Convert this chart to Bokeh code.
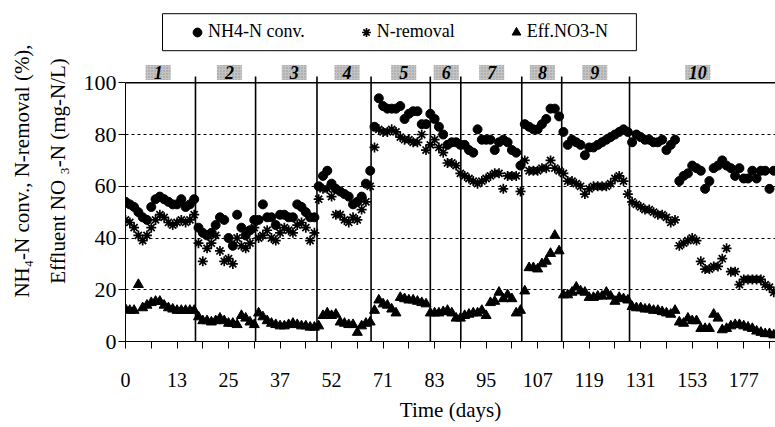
from bokeh.plotting import figure
from bokeh.models import (Range1d, FixedTicker, Span, Legend, LegendItem,
                          BoxAnnotation, LinearAxis)
from bokeh.embed import file_html
from bokeh.resources import INLINE
from bokeh.core.properties import value

FONT = "Liberation Serif"

# ---------------- data (one value per sample) -------------
day_labels = ["0", "13", "25", "37", "52", "71", "83", "95", "107", "119", "131", "153", "177"]
phase_names = ["1", "2", "3", "4", "5", "6", "7", "8", "9", "10"]

nh4_conv = [
    54, 53, 52, 50, 48, 47, 52, 55, 56, 55, 54, 53, 53, 55, 52, 53, 55,           # 1
    44, 42, 41, 42, 45, 48, 47, 40, 37, 49, 44, 41, 43, 47,                       # 2
    47, 53, 48, 48, 45, 49, 49, 48, 48, 53, 52, 50, 48, 48,                       # 3
    60, 64, 66, 61, 59, 58, 57, 56, 53, 54, 56, 61, 66,                           # 4
    83, 94, 91, 90, 90, 90, 91, 86, 88, 89, 89, 84, 84, 88,                       # 5
    86, 83, 80, 76, 77, 77, 76,                                                   # 6
    76, 74, 73, 82, 78, 78, 78, 74, 77, 78, 77, 74, 73, 68,                       # 7
    84, 83, 82, 82, 84, 86, 90, 90, 87,                                           # 8
    81, 76, 78, 77, 76, 72, 75, 75, 76, 77, 78, 79, 80, 81, 82, 81,               # 9
    77, 80, 79, 78, 78, 77, 77, 78, 74, 76, 78, 62, 64, 65, 68, 67, 66, 59, 62,   # 10
    67, 68, 70, 68, 67, 64, 67, 63, 63, 66, 63, 66, 66, 59, 66,
]

n_removal = [
    47, 46, 44, 41, 39, 41, 44, 47, 49, 48, 46, 45, 46, 47, 46, 47, 49,
    38, 31, 36, 38, 41, 35, 31, 32, 30, 40, 37, 36, 38, 44,
    40, 41, 43, 40, 39, 42, 44, 43, 42, 45, 46, 44, 39, 42,
    55, 59, 59, 56, 49, 49, 47, 46, 48, 47, 51, 54, 60,
    75, 82, 81, 81, 82, 81, 79, 78, 78, 77, 77, 80, 74, 76,
    78, 75, 73, 69, 69, 68, 65,
    64, 63, 62, 61, 62, 63, 64, 65, 65, 59, 64, 64, 64, 58,
    70, 66, 66, 66, 67, 67, 70, 67, 66,
    65, 62, 62, 61, 60, 57, 59, 60, 60, 60, 60, 61, 63, 64, 62, 57,
    54, 53, 52, 51, 51, 50, 49, 49, 48, 46, 47, 37, 38, 39, 40, 39, 31, 28, 28,
    29, 29, 32, 36, 27, 27, 22, 24, 24, 24, 24, 24, 22, 21, 19,
]

eff_no3 = [
    12.5, 12, 12, 22, 13, 14, 15, 15.5, 15.5, 14, 13, 12.5, 12, 12, 12, 12, 12,
    9.5, 8, 8, 7.5, 8, 9, 8, 7, 7, 6.5, 10, 9, 7.5, 6.5,
    11, 9.5, 8, 7, 6.5, 6, 6, 6.5, 7, 6.5, 6, 6, 5.5, 5.5,
    6, 10, 11, 10, 10.5, 7.5, 7, 6.5, 6.5, 3.5, 6, 7, 7.5,
    12, 16, 14.5, 14, 12.5, 11, 17, 16.5, 16, 16, 15.5, 15, 14.5, 11,
    11, 11, 11.5, 12, 11, 9, 9,
    10, 10.5, 11, 11, 12, 10, 15, 15.5, 19, 16.5, 18, 16.5, 11, 12,
    19.5, 28.5, 28.5, 28, 30, 31, 34, 41, 35,
    18, 18, 19, 21, 19.5, 19, 17, 17, 17.5, 17.5, 19, 17.5, 15.5, 17, 16.5, 16,
    13.5, 13, 13, 12.5, 12.5, 12, 12, 11.5, 11, 10.5, 12, 7.5, 7, 9, 8, 8, 5, 5, 5,
    10.5, 9, 4.5, 5, 6, 6.5, 6.5, 6, 5.5, 5, 4, 3.5, 3, 3, 2.5,
]

sample = list(range(len(nh4_conv)))

# ---------------- layout helpers (positions in sample / value units) ----------------
phase_bounds = [16.3, 30.3, 44.6, 57.2, 71.0, 78.1, 92.3, 101.6, 117.4]
phase_label_x = [7.6, 24.2, 39.3, 51.6, 64.8, 74.7, 85.3, 97.1, 109.3, 133.3]
label_every = 12

p = figure(width=775, height=427,
           x_range=Range1d(0, 151.4), y_range=Range1d(0, 131.8),
           output_backend="svg", toolbar_location=None,
           min_border_left=125, min_border_right=0,
           min_border_top=0, min_border_bottom=86)
p.outline_line_color = None
p.background_fill_color = "white"
p.border_fill_color = "white"

# x axis
major = [i * label_every for i in range(len(day_labels))]
minor = [m + label_every // 2 for m in major]
xa = p.xaxis[0]
xa.ticker = FixedTicker(ticks=major, minor_ticks=minor)
xa.major_label_overrides = {m: lab for m, lab in zip(major, day_labels)}
xa.major_tick_out = 7
xa.major_tick_in = 0
xa.minor_tick_out = 7
xa.minor_tick_in = 0
xa.axis_line_color = "black"
xa.major_tick_line_color = "black"
xa.minor_tick_line_color = "black"
xa.major_label_text_font = FONT
xa.major_label_text_font_size = "20px"
xa.major_label_text_color = "black"
xa.major_label_standoff = 24
xa.axis_label = "Time (days)"
xa.axis_label_text_font = FONT
xa.axis_label_text_font_size = "21px"
xa.axis_label_text_font_style = "normal"
xa.axis_label_text_color = "black"
xa.axis_label_standoff = 8

# y axis (ticks)
ya = p.yaxis[0]
ya.ticker = FixedTicker(ticks=[0, 20, 40, 60, 80, 100])
ya.bounds = (0, 100)
ya.major_tick_out = 7
ya.major_tick_in = 0
ya.minor_tick_line_color = None
ya.axis_line_color = "black"
ya.major_tick_line_color = "black"
ya.major_label_text_font = FONT
ya.major_label_text_font_size = "22px"
ya.major_label_text_color = "black"
ya.major_label_standoff = 2

def title_axis(text, bounds, standoff):
    ax = LinearAxis(ticker=FixedTicker(ticks=[]), bounds=bounds,
                    axis_line_color=None, major_tick_line_color=None,
                    minor_tick_line_color=None, axis_label=text,
                    axis_label_text_font=FONT, axis_label_text_font_size="21px",
                    axis_label_text_font_style="normal",
                    axis_label_text_color="black", axis_label_standoff=standoff)
    return ax

# two-line y-axis title
p.add_layout(title_axis("Effluent NO \u2083-N (mg-N/L)", (0, 94.2), 11), "left")
p.add_layout(title_axis("NH\u2084-N conv., N-removal (%),", (0, 89.6), 9), "left")

p.xgrid.visible = False
p.ygrid.ticker = FixedTicker(ticks=[20, 40, 60, 80])
p.ygrid.grid_line_color = "black"
p.ygrid.grid_line_dash = "3 3"
p.ygrid.grid_line_width = 1

p.add_layout(Span(location=100, dimension="width", line_color="black", line_width=1.3))

# phase separators
p.segment(x0=phase_bounds, y0=[0] * len(phase_bounds), x1=phase_bounds,
          y1=[102.4] * len(phase_bounds), line_color="black", line_width=1.6)

# phase tags
p.rect(x=phase_label_x, y=[104] * len(phase_label_x), width=25, height=15,
       width_units="screen", height_units="screen",
       fill_color="#c4c4c4", line_color=None,
       hatch_pattern="dot", hatch_color="#7a7a7a", hatch_scale=3, hatch_alpha=0.7)
p.text(x=phase_label_x, y=[104] * len(phase_label_x), text=phase_names,
       text_font=value(FONT), text_font_style="bold italic", text_font_size="18px",
       text_align="center", text_baseline="middle", text_color="black")

# series
r1 = p.scatter(sample, nh4_conv, marker="circle", size=9,
               fill_color="black", line_color="black")
r2 = p.scatter(sample, n_removal, marker="asterisk", size=10,
               line_color="black", line_width=1.7)
r3 = p.scatter(sample, eff_no3, marker="triangle", size=10,
               fill_color="black", line_color="black")

# legend frame + legend
p.add_layout(BoxAnnotation(left=8.62, right=119.0, bottom=112.4, top=126.7,
                           fill_color="white", fill_alpha=1, line_color="black",
                           line_alpha=1, line_width=1, line_dash="solid"))
legend = Legend(items=[LegendItem(label="NH4-N conv.", renderers=[r1]),
                       LegendItem(label="N-removal", renderers=[r2]),
                       LegendItem(label="Eff.NO3-N", renderers=[r3])],
                orientation="horizontal", location=(61, 298.5),
                padding=0, margin=0, spacing=50,
                glyph_width=22, glyph_height=22, label_height=22,
                label_standoff=0, label_text_font=FONT,
                label_text_font_size="18px", label_text_color="black",
                border_line_color=None, background_fill_alpha=0)
p.add_layout(legend)

open("out.html", "w").write(file_html(p, INLINE))
